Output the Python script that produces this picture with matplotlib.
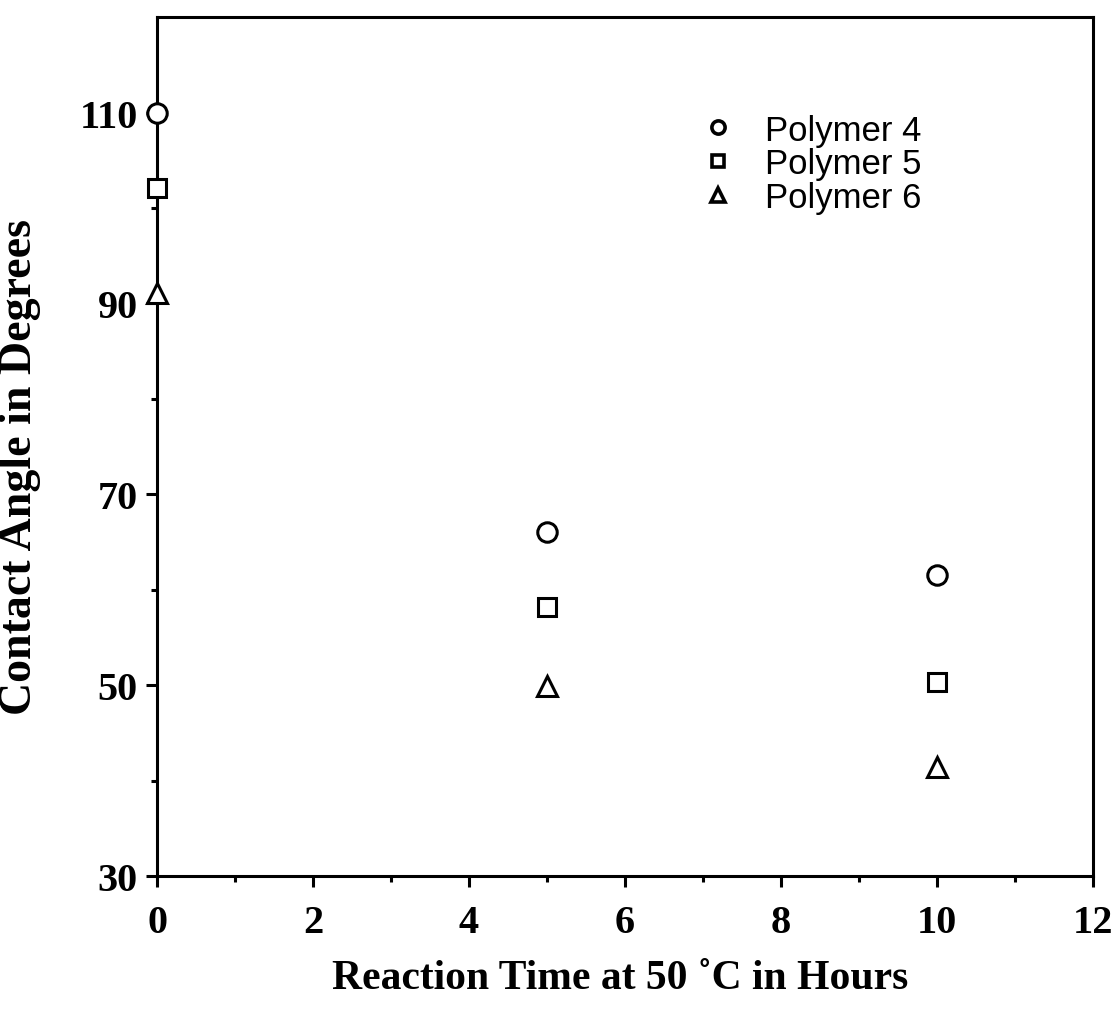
import numpy as np
import matplotlib
matplotlib.use('Agg')
import matplotlib.pyplot as plt
from matplotlib.ticker import MultipleLocator

# reaction time (hours) and contact angles (degrees)
hours = [0, 5, 10]
polymer4 = [110.0, 66.1, 61.5]
polymer5 = [102.1, 58.2, 50.3]
polymer6 = [91.1, 49.9, 41.4]
labels = ['Polymer 4', 'Polymer 5', 'Polymer 6']

fig = plt.figure(figsize=(11.17, 10.12), dpi=100)
ax = fig.add_axes([0.1406, 0.1334, 0.8379, 0.8486])

kw = dict(linestyle='none', markerfacecolor='white', markeredgecolor='black',
          markeredgewidth=2.2, clip_on=False, zorder=5)
h1, = ax.plot(hours, polymer4, marker='o', markersize=14, label=labels[0], **kw)
h2, = ax.plot(hours, polymer5, marker='s', markersize=13, label=labels[1], **kw)
h3, = ax.plot(hours, polymer6, marker='^', markersize=14, label=labels[2], **kw)

ax.set_xlim(0, 12)
ax.set_ylim(30, 120)
ax.xaxis.set_major_locator(MultipleLocator(2))
ax.xaxis.set_minor_locator(MultipleLocator(1))
ax.set_yticks([30, 50, 70, 90, 110])
ax.set_yticks([40, 60, 80, 100], minor=True)

for s in ax.spines.values():
    s.set_linewidth(2.2)

tfont = dict(family='Liberation Serif', weight='bold')
ax.tick_params(which='major', direction='out', length=8, width=2.2)
ax.tick_params(which='minor', direction='out', length=4.5, width=2.2)
ax.tick_params(axis='x', which='major', pad=12)
ax.tick_params(axis='y', which='major', pad=6)
for lab in ax.get_xticklabels() + ax.get_yticklabels():
    lab.set_fontfamily('Liberation Serif')
    lab.set_fontweight('bold')
    lab.set_fontsize(29)

ax.set_xlabel('Reaction Time at 50 \u02daC in Hours', fontsize=30, **tfont)
ax.set_ylabel('Contact Angle in Degrees', fontsize=33, **tfont)
ax.xaxis.set_label_coords(0.495, -0.097)
ax.yaxis.set_label_coords(-0.124, 0.477)

leg = ax.legend(handles=[h1, h2, h3], loc='upper left', bbox_to_anchor=(0.5807, 0.8878),
                frameon=False, markerscale=0.68, handlelength=1.0, handletextpad=0.85,
                borderpad=0, borderaxespad=0, labelspacing=0.02,
                prop=dict(family='Liberation Sans', size=25))
for h in leg.legend_handles:
    h.set_markeredgewidth(2.6)

fig.savefig('out.png', dpi=100)
